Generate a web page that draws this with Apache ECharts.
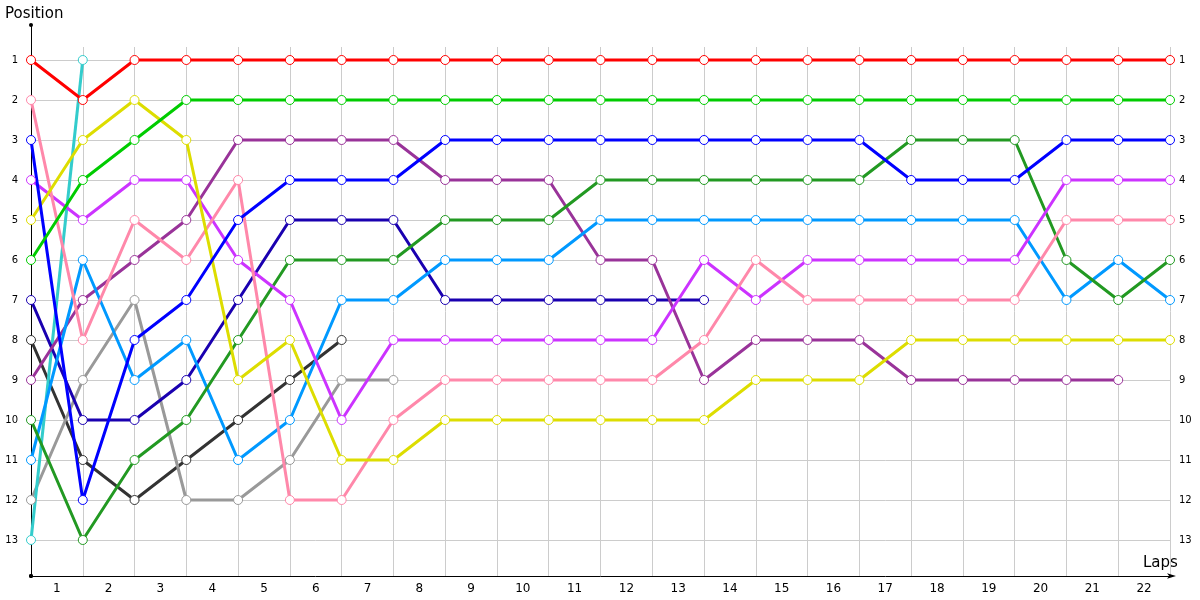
<!DOCTYPE html>
<html><head><meta charset="utf-8">
<script src="https://cdn.jsdelivr.net/npm/echarts@6/dist/echarts.min.js"></script>
<style>html,body{margin:0;padding:0;background:#fff}#c{width:1200px;height:600px}</style>
</head><body><div id="c"></div>
<script>
const lapLabels = ['1','2','3','4','5','6','7','8','9','10','11','12','13','14','15','16','17','18','19','20','21','22'];
const positionTicks = [1,2,3,4,5,6,7,8,9,10,11,12,13];
const red        = [1,2,1,1,1,1,1,1,1,1,1,1,1,1,1,1,1,1,1,1,1,1,1];
const lime       = [6,4,3,2,2,2,2,2,2,2,2,2,2,2,2,2,2,2,2,2,2,2,2];
const blue       = [3,12,8,7,5,4,4,4,3,3,3,3,3,3,3,3,3,4,4,4,3,3,3];
const yellow     = [5,3,2,3,9,8,11,11,10,10,10,10,10,10,9,9,9,8,8,8,8,8,8];
const pink       = [2,8,5,6,4,12,12,10,9,9,9,9,9,8,6,7,7,7,7,7,5,5,5];
const magenta    = [4,5,4,4,6,7,10,8,8,8,8,8,8,6,7,6,6,6,6,6,4,4,4];
const purple     = [9,7,6,5,3,3,3,3,4,4,4,6,6,9,8,8,8,9,9,9,9,9];
const navy       = [7,10,10,9,7,5,5,5,7,7,7,7,7,7];
const green      = [10,13,11,10,8,6,6,6,5,5,5,4,4,4,4,4,4,3,3,3,6,7,6];
const skyblue    = [11,6,9,8,11,10,7,7,6,6,6,5,5,5,5,5,5,5,5,5,7,6,7];
const gray       = [12,9,7,12,12,11,9,9];
const dark       = [8,11,12,11,10,9,8];
const cyan       = [13,1];

const seriesDefs = [
  [dark,'#333333'],[gray,'#999999'],[cyan,'#33cccc'],[navy,'#1a00b0'],
  [purple,'#993399'],[skyblue,'#0099ff'],[green,'#229922'],[magenta,'#cc33ff'],
  [pink,'#ff88aa'],[yellow,'#dddd00'],[blue,'#0000ff'],[lime,'#00cc00'],[red,'#ff0000']
];

const chart = echarts.init(document.getElementById('c'));
chart.setOption({
  animation:false,
  textStyle:{fontFamily:'DejaVu Sans'},
  grid:[
    {left:31,right:30,top:60,bottom:60},
    {left:31,right:30,top:47,bottom:24},
    {left:31,right:30,top:25,bottom:24}
  ],
  xAxis:[
    {type:'value',gridIndex:0,min:0,max:22,interval:1,show:false},
    {type:'value',gridIndex:1,min:0,max:22,interval:1,
      axisLine:{show:true,onZero:false,lineStyle:{color:'#000',width:1},symbol:['circle','arrow'],symbolSize:[4,9],symbolOffset:[0,6]},
      axisTick:{show:false},axisLabel:{show:false},
      splitLine:{show:true,lineStyle:{color:'#cccccc',width:1}}},
    {type:'category',gridIndex:1,data:lapLabels,boundaryGap:true,position:'bottom',
      axisLine:{show:false},axisTick:{show:false},
      axisLabel:{color:'#000',fontSize:12,margin:7},splitLine:{show:false}},
    {type:'value',gridIndex:2,min:0,max:22,show:false}
  ],
  yAxis:[
    {type:'value',gridIndex:0,min:1,max:13,interval:1,inverse:true,
      axisLine:{show:false},axisTick:{show:false},
      axisLabel:{color:'#000',fontSize:10,margin:13},
      splitLine:{show:true,lineStyle:{color:'#cccccc',width:1}}},
    {type:'value',gridIndex:0,min:1,max:13,interval:1,inverse:true,position:'right',
      axisLine:{show:false},axisTick:{show:false},
      axisLabel:{color:'#000',fontSize:10,margin:9},splitLine:{show:false}},
    {type:'value',gridIndex:1,min:0,max:1,show:false},
    {type:'value',gridIndex:2,min:0,max:1,
      axisLine:{show:true,onZero:false,lineStyle:{color:'#000',width:1},symbol:['circle','circle'],symbolSize:[4,4]},
      axisTick:{show:false},axisLabel:{show:false},splitLine:{show:false}}
  ],
  graphic:[
    {type:'text',left:5,top:7,style:{text:'Position',fontSize:15,fill:'#000',fontFamily:'DejaVu Sans'}},
    {type:'text',left:1143,top:556,style:{text:'Laps',fontSize:15,fill:'#000',fontFamily:'DejaVu Sans'}}
  ],
  series: seriesDefs.map(([vals,color])=>({
    type:'line',xAxisIndex:0,yAxisIndex:0,
    data: vals.map((v,i)=>[i,v]),
    symbol:'circle',symbolSize:9,showSymbol:true,clip:false,
    lineStyle:{color:color,width:3},
    itemStyle:{color:'#fff',borderColor:color,borderWidth:1},
    emphasis:{disabled:true}
  }))
});
</script></body></html>
